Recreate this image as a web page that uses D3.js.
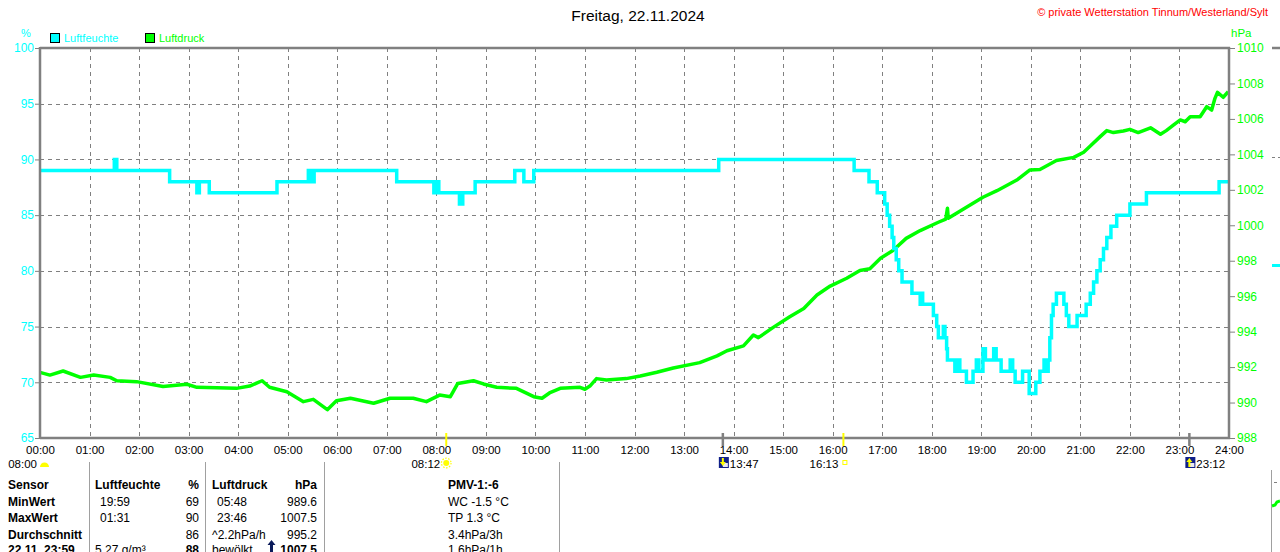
<!DOCTYPE html>
<html>
<head>
<meta charset="utf-8">
<script src="https://cdn.jsdelivr.net/npm/d3@7"></script>
<style>
  html, body { margin: 0; padding: 0; background: #fff; }
  svg { display: block; font-family: "Liberation Sans", Arial, sans-serif; }
</style>
</head>
<body>
<div id="chart"></div>
<script>
// Luftfeuchte (%) – stepped series, times as HH:MM
const humTimes = ['00:00','01:30','01:33','02:37','03:10','03:13','03:25','04:47','05:25','05:28','05:32',
  '07:12','07:57','08:00','08:03','08:28','08:32','08:47','09:35','09:46','09:58','13:42','16:26','16:44',
  '16:54','17:03','17:06','17:09','17:12','17:14','17:17','17:20','17:24','17:36','17:46','17:47','17:49',
  '18:02','18:06','18:08','18:14','18:16','18:18','18:19','18:28','18:31','18:34','18:42','18:50','18:54',
  '18:57','19:02','19:05','19:15','19:18','19:24','19:35','19:38','19:41','19:50','19:58','20:06','20:11',
  '20:16','20:19','20:21','20:23','20:25','20:27','20:31','20:40','20:43','20:46','20:56','21:07','21:12',
  '21:16','21:20','21:24','21:28','21:32','21:37','21:44','22:00','22:20','23:48','24:00'];
const humValues = [89,90,89,88,87,88,87,88,89,88,89,
  88,87,88,87,86,87,88,89,88,89,90,89,88,
  87,86,85,84,83,82,81,80,79,78,77,78,77,
  76,75,74,75,74,73,72,71,72,71,70,71,72,
  71,73,72,73,72,71,72,71,70,71,69,70,71,
  72,71,72,74,76,77,78,77,76,75,76,77,78,
  79,80,81,82,83,84,85,86,87,88,88];

// Luftdruck (hPa)
const presTimes = ['00:00','00:12','00:28','00:49','01:05','01:25','01:33','01:57','02:29','02:58','03:10',
  '03:58','04:14','04:29','04:38','04:59','05:19','05:31','05:48','05:59','06:16','06:44','07:04','07:32',
  '07:48','08:04','08:17','08:26','08:45','08:57','09:13','09:37','09:58','10:08','10:17','10:30','10:54',
  '11:00','11:06','11:14','11:26','11:50','12:07','12:27','12:47','13:19','13:40','13:52','14:12','14:24',
  '14:30','14:48','15:08','15:25','15:41','15:57','16:17','16:33','16:45','16:58','17:13','17:29','17:46',
  '18:08','18:17','18:19','18:20','18:43','19:02','19:19','19:43','19:59','20:11','20:31','20:52','21:04',
  '21:12','21:24','21:32','21:40','21:52','22:00','22:10','22:25','22:37','22:44','22:53','23:01','23:07',
  '23:13','23:25','23:33','23:39','23:43','23:46','23:53','23:59'];
const presValues = [991.7,991.55,991.78,991.42,991.55,991.42,991.23,991.18,990.9,991.03,990.86,
  990.8,990.93,991.23,990.86,990.61,990.05,990.18,989.6,990.1,990.24,989.96,990.24,990.24,
  990.05,990.42,990.33,991.08,991.23,991.05,990.86,990.8,990.33,990.24,990.54,990.8,990.86,
  990.75,990.93,991.35,991.27,991.35,991.5,991.71,991.95,992.25,992.63,992.92,993.2,993.81,
  993.66,994.24,994.84,995.31,996.07,996.57,997.01,997.45,997.55,998.14,998.58,999.26,999.7,
  1000.17,1000.35,1000.96,1000.4,1001.05,1001.58,1001.95,1002.55,1003.12,1003.15,1003.65,1003.83,1004.12,
  1004.47,1005.0,1005.34,1005.23,1005.32,1005.41,1005.23,1005.5,1005.13,1005.34,1005.66,1005.94,1005.84,
  1006.12,1006.12,1006.69,1006.5,1007.16,1007.5,1007.22,1007.53];

const hourTicks = d3.range(0, 25);
const humTicks = [65, 70, 75, 80, 85, 90, 95, 100];
const presTicks = [988, 990, 992, 994, 996, 998, 1000, 1002, 1004, 1006, 1008, 1010];

// Sonne / Mond Auf- und Untergang
const sunMoonTimes = ['08:12', '13:47', '16:13', '23:12'];
const sunMoonKinds = ['sunrise', 'moonset', 'sunset', 'moonrise'];

// Tabelle unten
const tableRows = [
  ['Sensor', 'Luftfeuchte', '%', 'Luftdruck', 'hPa', 'PMV-1:-6'],
  ['MinWert', '19:59', '69', '05:48', '989.6', 'WC -1.5 °C'],
  ['MaxWert', '01:31', '90', '23:46', '1007.5', 'TP 1.3 °C'],
  ['Durchschnitt', '', '86', '^2.2hPa/h', '995.2', '3.4hPa/3h'],
  ['22.11. 23:59', '5.27 g/m³', '88', 'bewölkt', '1007.5', '1.6hPa/1h']
];

const palette = {
  hum: '#00ffff',
  pres: '#00ff00',
  frame: '#808080',
  grid: '#808080',
  sun: '#ffff00',
  moon: '#10208a',
  red: '#ff0000'
};

const W = 1280, H = 552;
const margin = { top: 48, right: 51, bottom: 114, left: 40 };

const toHours = (s) => { const [h, m] = s.split(':').map(Number); return h + m / 60; };

const humData = humTimes.map((t, i) => ({ t: toHours(t), v: humValues[i] }));
const presData = presTimes.map((t, i) => ({ t: toHours(t), v: presValues[i] }));

const svg = d3.select('#chart').append('svg').attr('width', W).attr('height', H);

const x = d3.scaleLinear().domain([0, 24]).range([margin.left, W - margin.right]);
const yH = d3.scaleLinear().domain([65, 100]).range([H - margin.bottom, margin.top]);
const yP = d3.scaleLinear().domain([988, 1010]).range([H - margin.bottom, margin.top]);
const x0 = x(0), x1 = x(24), yTop = yH(100), yBot = yH(65);

// title + copyright
svg.append('text').attr('x', 638).attr('y', 21).attr('text-anchor', 'middle')
  .attr('font-size', 15.5).attr('fill', '#000').text('Freitag, 22.11.2024');
svg.append('text').attr('x', 1268).attr('y', 16).attr('text-anchor', 'end')
  .attr('font-size', 11).attr('fill', palette.red).text('© private Wetterstation Tinnum/Westerland/Sylt');

// units + legend
svg.append('text').attr('x', 26).attr('y', 37).attr('text-anchor', 'middle')
  .attr('font-size', 11).attr('fill', palette.hum).text('%');
svg.append('text').attr('x', 1231).attr('y', 37)
  .attr('font-size', 11.5).attr('fill', palette.pres).text('hPa');

const legend = [['Luftfeuchte', palette.hum, 50], ['Luftdruck', palette.pres, 145]];
legend.forEach(([name, col, lx]) => {
  svg.append('rect').attr('x', lx + 0.5).attr('y', 33.5).attr('width', 9).attr('height', 9)
    .attr('fill', col).attr('stroke', '#000').attr('stroke-width', 1);
  svg.append('text').attr('x', lx + 14).attr('y', 42).attr('font-size', 11)
    .attr('fill', col).text(name);
});

// gridlines
const grid = svg.append('g').attr('stroke', palette.grid).attr('stroke-width', 1)
  .attr('stroke-dasharray', '4,4');
grid.selectAll('line.v').data(hourTicks.slice(1, -1)).enter().append('line')
  .attr('x1', (d) => Math.round(x(d)) + 0.5).attr('x2', (d) => Math.round(x(d)) + 0.5)
  .attr('y1', yTop).attr('y2', yBot);
grid.selectAll('line.h').data(humTicks.slice(1, -1)).enter().append('line')
  .attr('x1', x0).attr('x2', x1)
  .attr('y1', (d) => Math.round(yH(d)) + 0.5).attr('y2', (d) => Math.round(yH(d)) + 0.5);

// lines
const humLine = d3.line().x((d) => x(d.t)).y((d) => yH(d.v)).curve(d3.curveStepAfter);
const presLine = d3.line().x((d) => x(d.t)).y((d) => yP(d.v));

svg.append('path').datum(presData).attr('d', presLine).attr('fill', 'none')
  .attr('stroke', palette.pres).attr('stroke-width', 3.5).attr('stroke-linejoin', 'round');
svg.append('path').datum(humData).attr('d', humLine).attr('fill', 'none')
  .attr('stroke', palette.hum).attr('stroke-width', 3.5);

// frame
const frame = svg.append('g').attr('stroke', palette.frame).attr('stroke-width', 2.5).attr('fill', 'none');
frame.append('line').attr('x1', x0).attr('x2', x1 + 1).attr('y1', yTop).attr('y2', yTop);
frame.append('line').attr('x1', x0).attr('x2', x1 + 1).attr('y1', yBot).attr('y2', yBot);
frame.append('line').attr('x1', x0).attr('x2', x0).attr('y1', yTop - 1).attr('y2', yBot + 1);
frame.append('line').attr('x1', x1).attr('x2', x1).attr('y1', yTop - 1).attr('y2', yBot + 1);

// left axis (%)
svg.append('g').attr('transform', `translate(${x0 - 1},0)`)
  .call(d3.axisLeft(yH).tickValues(humTicks).tickSize(4).tickPadding(1))
  .call((g) => g.select('.domain').remove())
  .call((g) => g.selectAll('line').attr('stroke', palette.frame))
  .call((g) => g.selectAll('text').attr('fill', palette.hum).attr('font-size', 12)
    .attr('font-family', '"Liberation Sans", Arial, sans-serif'));

// right axis (hPa)
svg.append('g').attr('transform', `translate(${x1 + 1},0)`)
  .call(d3.axisRight(yP).tickValues(presTicks).tickSize(5).tickPadding(2).tickFormat(d3.format('d')))
  .call((g) => g.select('.domain').remove())
  .call((g) => g.selectAll('line').attr('stroke', palette.frame))
  .call((g) => g.selectAll('text').attr('fill', palette.pres).attr('font-size', 12)
    .attr('font-family', '"Liberation Sans", Arial, sans-serif'));

// bottom axis (time)
svg.append('g').attr('transform', `translate(0,${yBot + 2})`)
  .call(d3.axisBottom(x).tickValues(hourTicks).tickSize(0).tickPadding(6)
    .tickFormat((d) => `${String(d).padStart(2, '0')}:00`))
  .call((g) => g.select('.domain').remove())
  .call((g) => g.selectAll('text').attr('fill', '#000').attr('font-size', 11.5)
    .attr('font-family', '"Liberation Sans", Arial, sans-serif'));

// sun / moon markers on the time axis
const ev = sunMoonTimes.map((t, i) => ({ t: toHours(t), label: t, kind: sunMoonKinds[i] }));
svg.append('g').selectAll('line').data(ev).enter().append('line')
  .attr('x1', (d) => x(d.t)).attr('x2', (d) => x(d.t))
  .attr('y1', yBot - 5).attr('y2', yBot + 8)
  .attr('stroke', (d) => (d.kind.startsWith('sun') ? palette.sun : palette.frame))
  .attr('stroke-width', (d) => (d.kind.startsWith('sun') ? 2 : 2.5));

const evRow = 468;
svg.append('text').attr('x', 37).attr('y', evRow).attr('text-anchor', 'end')
  .attr('font-size', 11.5).text('08:00');
svg.append('path').attr('d', 'M40,467 a4.5,4.5 0 0 1 9,0 z').attr('fill', palette.sun);

ev.forEach((d) => {
  const cx = x(d.t);
  if (d.kind === 'sunrise') {
    svg.append('text').attr('x', cx - 6).attr('y', evRow).attr('text-anchor', 'end')
      .attr('font-size', 11.5).text(d.label);
    svg.append('circle').attr('cx', cx).attr('cy', 463).attr('r', 3).attr('fill', palette.sun);
    svg.append('circle').attr('cx', cx).attr('cy', 463).attr('r', 4.8).attr('fill', 'none')
      .attr('stroke', palette.sun).attr('stroke-width', 1.2).attr('stroke-dasharray', '1.5,1.5');
  } else if (d.kind === 'sunset') {
    svg.append('text').attr('x', cx - 5).attr('y', evRow).attr('text-anchor', 'end')
      .attr('font-size', 11.5).text(d.label);
    svg.append('rect').attr('x', cx - 0.5).attr('y', 460.5).attr('width', 4).attr('height', 4)
      .attr('fill', 'none').attr('stroke', palette.sun).attr('stroke-width', 1);
  } else {
    const ix = cx - 4;
    svg.append('rect').attr('x', ix).attr('y', 457).attr('width', 10).attr('height', 11).attr('fill', palette.moon);
    svg.append('rect').attr('x', ix + 4).attr('y', 463).attr('width', 5).attr('height', 4).attr('fill', '#e8e8f0');
    const arrow = d.kind === 'moonset' ? 'M2,458 v4 h-2 l3,4 l3,-4 h-2 v-4 z' : 'M3,458 l3,4 h-2 v5 h-2 v-5 h-2 z';
    svg.append('path').attr('transform', `translate(${ix + 1},0)`).attr('d', arrow).attr('fill', palette.sun);
    svg.append('text').attr('x', ix + 11).attr('y', evRow).attr('font-size', 11.5).text(d.label);
  }
});

// table
const sepX = [89, 205, 324, 559];
svg.append('g').selectAll('line').data(sepX).enter().append('line')
  .attr('x1', (d) => d + 0.5).attr('x2', (d) => d + 0.5).attr('y1', 462).attr('y2', H)
  .attr('stroke', '#a0a0a0').attr('stroke-width', 1);

const colX = [8, 95, 199, 212, 317, 448];
const colAnchor = ['start', 'start', 'end', 'start', 'end', 'start'];
const rowY = [489, 505.5, 522, 538.5, 554];
tableRows.forEach((row, r) => {
  row.forEach((cell, c) => {
    const bold = r === 0 || c === 0 || (r === 4 && (c === 2 || c === 4));
    let cx = colX[c];
    if ((c === 1 || c === 3) && (r === 1 || r === 2)) cx += 5;
    svg.append('text').attr('x', cx).attr('y', rowY[r]).attr('text-anchor', colAnchor[c])
      .attr('font-size', 12).attr('font-weight', bold ? 'bold' : 'normal').attr('fill', '#000')
      .text(cell);
  });
});
// small trend arrow before the current pressure
svg.append('path').attr('d', 'M270,552 v-7 h-2.5 l4,-5 l4,5 h-2.5 v7 z').attr('fill', '#0a1a5a');

// bits of the neighbouring chart at the right edge
const edge = svg.append('g');
edge.append('line').attr('x1', 1272).attr('x2', 1280).attr('y1', yTop).attr('y2', yTop)
  .attr('stroke', palette.frame).attr('stroke-width', 2.5);
edge.append('line').attr('x1', 1272).attr('x2', 1280).attr('y1', 157.5).attr('y2', 157.5)
  .attr('stroke', palette.grid).attr('stroke-dasharray', '3,3');
edge.append('line').attr('x1', 1272).attr('x2', 1280).attr('y1', 265.5).attr('y2', 265.5)
  .attr('stroke', palette.hum).attr('stroke-width', 3);
edge.append('line').attr('x1', 1271.5).attr('x2', 1271.5).attr('y1', 470).attr('y2', H)
  .attr('stroke', '#a0a0a0').attr('stroke-width', 1);
edge.append('line').attr('x1', 1274).attr('x2', 1280).attr('y1', 482.5).attr('y2', 482.5)
  .attr('stroke', palette.grid).attr('stroke-dasharray', '3,3');
edge.append('path').attr('d', 'M1272,506 l3,-1 l2,-3 l3,-1').attr('fill', 'none')
  .attr('stroke', palette.pres).attr('stroke-width', 3);
</script>
</body>
</html>
